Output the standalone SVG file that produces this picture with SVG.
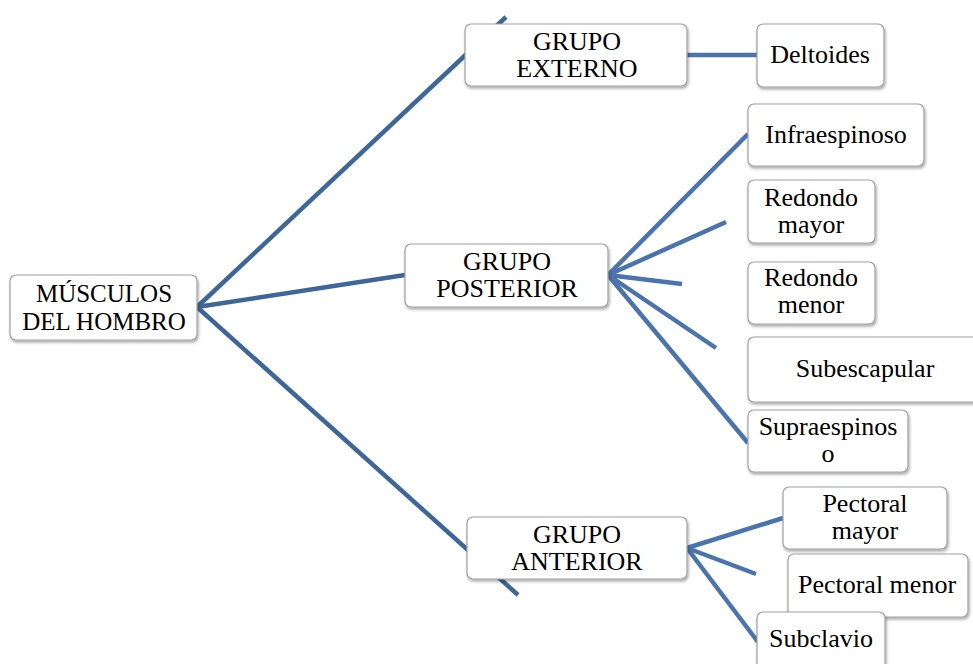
<svg xmlns="http://www.w3.org/2000/svg" width="973" height="664" viewBox="0 0 973 664">
  <defs>
    <filter id="shadow" x="-10%" y="-20%" width="130%" height="150%">
      <feDropShadow dx="1" dy="2" stdDeviation="1.5" flood-color="#000" flood-opacity="0.35"/>
    </filter>
  </defs>
  <style>
    .box { fill: #ffffff; stroke: #a0a0a0; stroke-width: 1.2; filter: url(#shadow); }
    .lbl { font-family: "Liberation Serif", "Times New Roman", serif; font-size: 26px; fill: #000; text-anchor: middle; }
    .root { font-size: 25px; }
    .trunk { stroke: #3f6698; stroke-width: 4.5; fill: none; stroke-linecap: butt; }
    .branch { stroke: #4a74ab; stroke-width: 4.5; fill: none; stroke-linecap: butt; }
  </style>
  <rect width="973" height="664" fill="#ffffff"/>

  <!-- connectors -->
  <g id="connectors">
    <line class="trunk" x1="197" y1="307" x2="506" y2="17"/>
    <line class="trunk" x1="197" y1="307" x2="405" y2="275"/>
    <line class="trunk" x1="197" y1="307" x2="518" y2="595"/>
    <line class="branch" x1="687" y1="55" x2="757" y2="55"/>
    <line class="branch" x1="608" y1="275" x2="748" y2="134"/>
    <line class="branch" x1="608" y1="275" x2="726" y2="222"/>
    <line class="branch" x1="608" y1="275" x2="682" y2="284"/>
    <line class="branch" x1="608" y1="275" x2="716" y2="348"/>
    <line class="branch" x1="608" y1="275" x2="748" y2="443"/>
    <line class="branch" x1="687" y1="548" x2="783" y2="518"/>
    <line class="branch" x1="687" y1="548" x2="756" y2="574"/>
    <line class="branch" x1="687" y1="548" x2="758" y2="642"/>
  </g>

  <g id="musculos-del-hombro">
    <rect class="box" x="10" y="275" width="187" height="65" rx="6"/>
    <text class="lbl root" x="104" y="302">MÚSCULOS</text>
    <text class="lbl root" x="104" y="330">DEL HOMBRO</text>
  </g>

  <g id="grupo-externo">
    <rect class="box" x="465" y="24" width="222" height="62" rx="6"/>
    <text class="lbl" x="577" y="50">GRUPO</text>
    <text class="lbl" x="577" y="77">EXTERNO</text>
  </g>

  <g id="deltoides">
    <rect class="box" x="757" y="24" width="127" height="63" rx="6"/>
    <text class="lbl" x="820" y="63">Deltoides</text>
  </g>

  <g id="grupo-posterior">
    <rect class="box" x="405" y="244" width="203" height="63" rx="6"/>
    <text class="lbl" x="507" y="270">GRUPO</text>
    <text class="lbl" x="507" y="297">POSTERIOR</text>
  </g>

  <g id="infraespinoso">
    <rect class="box" x="748" y="104" width="176" height="62" rx="6"/>
    <text class="lbl" x="836" y="143">Infraespinoso</text>
  </g>

  <g id="redondo-mayor">
    <rect class="box" x="748" y="180" width="127" height="63" rx="6"/>
    <text class="lbl" x="811" y="206">Redondo</text>
    <text class="lbl" x="811" y="233">mayor</text>
  </g>

  <g id="redondo-menor">
    <rect class="box" x="748" y="262" width="127" height="62" rx="6"/>
    <text class="lbl" x="811" y="286">Redondo</text>
    <text class="lbl" x="811" y="313">menor</text>
  </g>

  <g id="subescapular">
    <rect class="box" x="748" y="337" width="240" height="65" rx="6"/>
    <text class="lbl" x="865" y="377">Subescapular</text>
  </g>

  <g id="supraespinoso">
    <rect class="box" x="748" y="410" width="160" height="62" rx="6"/>
    <text class="lbl" x="828" y="435">Supraespinos</text>
    <text class="lbl" x="828" y="462">o</text>
  </g>

  <g id="grupo-anterior">
    <rect class="box" x="467" y="517" width="220" height="62" rx="6"/>
    <text class="lbl" x="577" y="543">GRUPO</text>
    <text class="lbl" x="577" y="570">ANTERIOR</text>
  </g>

  <g id="pectoral-mayor">
    <rect class="box" x="783" y="487" width="164" height="62" rx="6"/>
    <text class="lbl" x="865" y="512">Pectoral</text>
    <text class="lbl" x="865" y="539">mayor</text>
  </g>

  <g id="pectoral-menor">
    <rect class="box" x="788" y="554" width="180" height="63" rx="6"/>
    <text class="lbl" x="877" y="593">Pectoral menor</text>
  </g>

  <g id="subclavio">
    <rect class="box" x="757" y="612" width="128" height="64" rx="6"/>
    <text class="lbl" x="821" y="647">Subclavio</text>
  </g>
</svg>
